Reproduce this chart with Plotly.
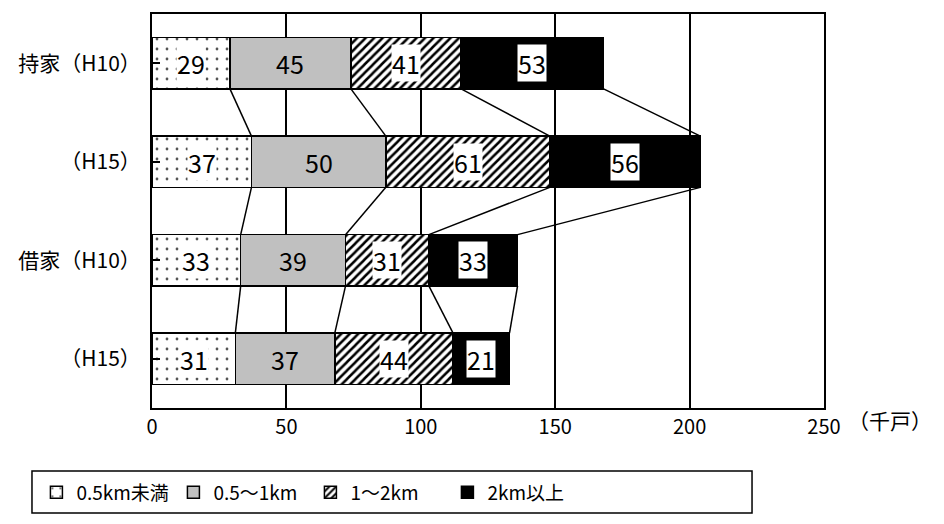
import plotly.graph_objects as go

# Households by distance to nearest station, by tenure and survey year (thousands)
categories = ["持家（H10）", "（H15）", "借家（H10）", "（H15）"]
series_names = ["0.5km未満", "0.5～1km", "1～2km", "2km以上"]
under_05 = [29, 37, 33, 31]
km05_1 = [45, 50, 39, 37]
km1_2 = [41, 61, 31, 44]
over_2 = [53, 56, 33, 21]
x_ticks = [0, 50, 100, 150, 200, 250]
unit_label = "（千戸）"

series_values = [under_05, km05_1, km1_2, over_2]
FONT = "Noto Sans CJK JP"
BAR_W = 0.52

styles = [
    dict(color="white", pattern=dict(shape=".", fgcolor="#555555", bgcolor="white",
                                     size=10, solidity=0.06, fillmode="replace")),
    dict(color="#c0c0c0", pattern=None),
    dict(color="white", pattern=dict(shape="/", fgcolor="black", bgcolor="white",
                                     size=6, solidity=0.42, fillmode="replace")),
    dict(color="black", pattern=None),
]
label_bg = ["white", "rgba(0,0,0,0)", "white", "white"]

ypos = list(range(len(categories)))

fig = go.Figure()
for name, vals, st in zip(series_names, series_values, styles):
    marker = dict(color=st["color"], line=dict(color="black", width=1.5))
    if st["pattern"] is not None:
        marker["pattern"] = st["pattern"]
    fig.add_trace(go.Bar(
        name=name, y=ypos, x=vals, orientation="h", width=BAR_W,
        marker=marker, hoverinfo="x+name",
    ))

# cumulative segment edges for each category
cum = []
for i in ypos:
    run = [0]
    for vals in series_values:
        run.append(run[-1] + vals[i])
    cum.append(run)

# value labels centred in each segment
annotations = []
for i in ypos:
    for k, vals in enumerate(series_values):
        annotations.append(dict(
            x=cum[i][k] + vals[i] / 2, y=i, xref="x", yref="y",
            text=str(vals[i]), showarrow=False,
            font=dict(family=FONT, size=25, color="black"),
            bgcolor=label_bg[k], borderpad=0,
        ))

# series lines joining segment ends of neighbouring bars
shapes = []
for i in ypos[:-1]:
    for k in range(1, len(series_values) + 1):
        shapes.append(dict(
            type="line", xref="x", yref="y",
            x0=cum[i][k], y0=i + BAR_W / 2,
            x1=cum[i + 1][k], y1=i + 1 - BAR_W / 2,
            line=dict(color="black", width=1.5), layer="above",
        ))

# frame around the legend
shapes.append(dict(type="rect", xref="paper", yref="paper",
                   x0=-0.1786, x1=0.8929, y0=-0.2668, y1=-0.1596,
                   line=dict(color="black", width=1.5), fillcolor="rgba(0,0,0,0)"))

annotations.append(dict(
    x=1.098, y=-0.03, xref="paper", yref="paper", text=unit_label,
    showarrow=False, xanchor="center", yanchor="middle",
    font=dict(family=FONT, size=21, color="black"),
))

fig.update_layout(
    barmode="stack",
    width=944, height=524,
    margin=dict(l=152, r=120, t=14, b=109),
    paper_bgcolor="white", plot_bgcolor="white",
    font=dict(family=FONT, size=19, color="black"),
    showlegend=True,
    legend=dict(orientation="h", x=-0.172, xanchor="left", y=-0.2145, yanchor="middle",
                entrywidth=92, entrywidthmode="pixels", traceorder="normal",
                font=dict(family=FONT, size=19, color="black"),
                bgcolor="rgba(0,0,0,0)"),
    xaxis=dict(range=[0, 250], tickvals=x_ticks, ticks="", showgrid=True,
               gridcolor="black", gridwidth=1.5, showline=True, mirror=True,
               linecolor="black", linewidth=2, zeroline=False, fixedrange=True,
               tickfont=dict(family=FONT, size=20)),
    yaxis=dict(range=[len(categories) - 0.5, -0.5], tickvals=ypos, ticktext=categories,
               tickson="boundaries", ticks="inside", ticklen=8, tickwidth=1.5,
               tickcolor="black", showgrid=False, showline=True, mirror=True,
               linecolor="black", linewidth=2, zeroline=False, fixedrange=True,
               ticklabelstandoff=5, tickfont=dict(family=FONT, size=21)),
    annotations=annotations,
    shapes=shapes,
)

fig.write_html("out.html")
